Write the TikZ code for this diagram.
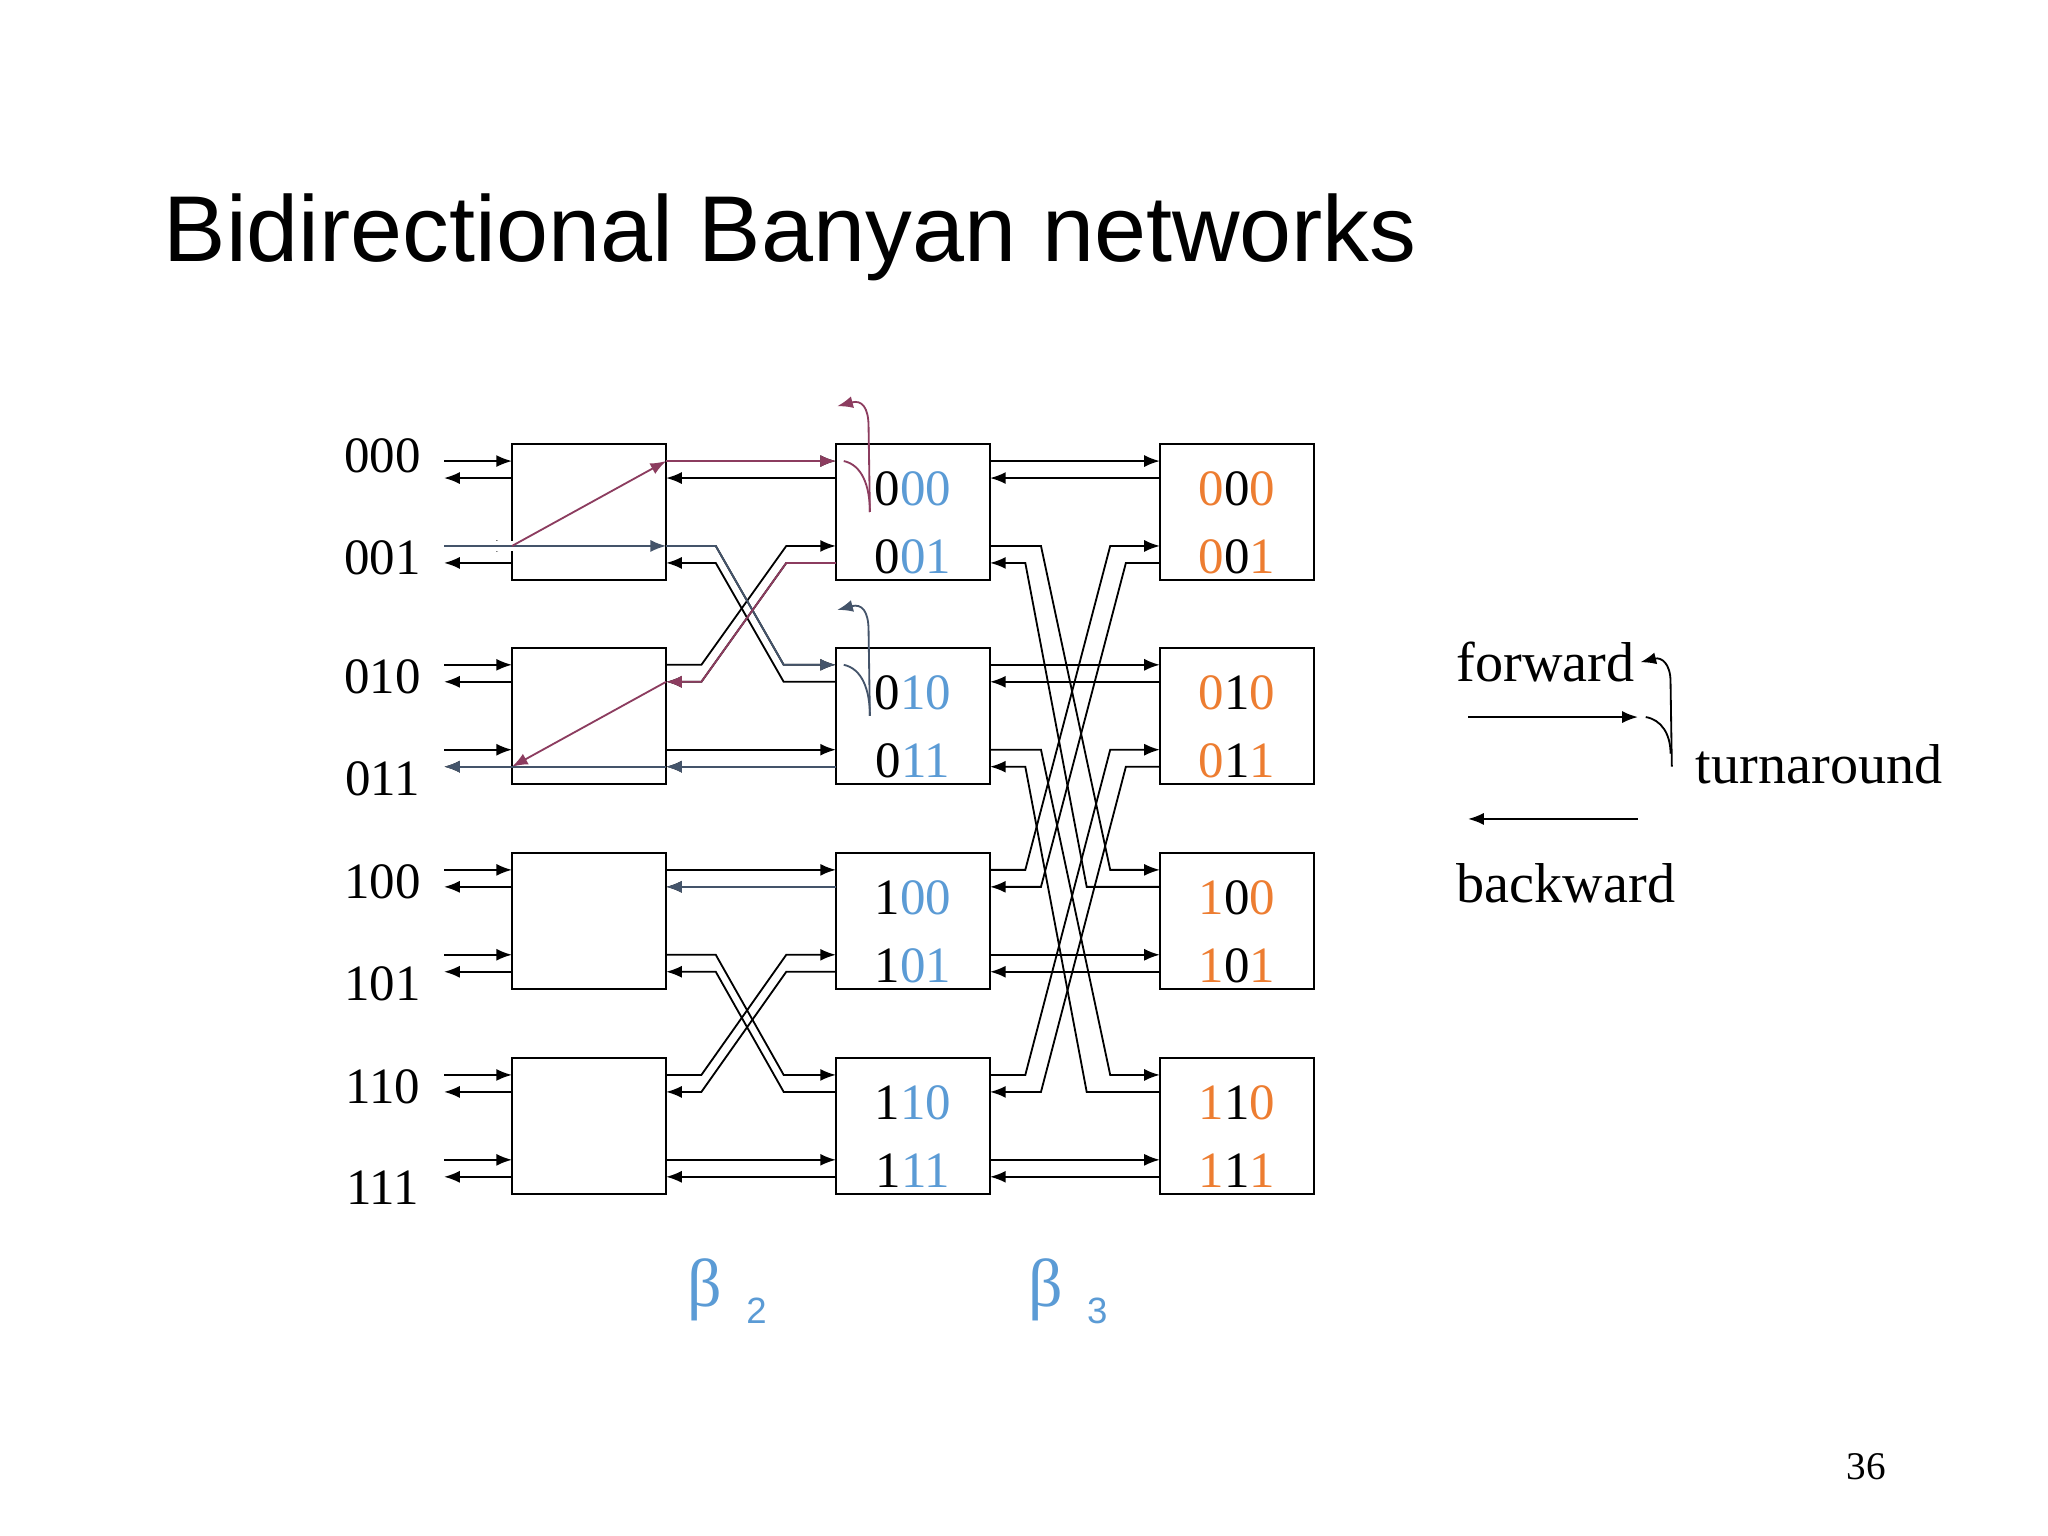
\documentclass[tikz,border=0pt]{standalone}
\usepackage{fontspec}
\setmainfont{Liberation Serif}
\newfontfamily\sansf{Liberation Sans}
\usetikzlibrary{arrows.meta,calc}
\definecolor{bl}{RGB}{91,155,213}
\definecolor{orn}{RGB}{237,125,49}
\definecolor{pk}{RGB}{140,60,95}
\definecolor{sl}{RGB}{68,84,106}
\tikzset{
  box/.style={draw,line width=0.8pt,minimum width=59pt,minimum height=52pt,inner sep=0pt,fill=white},
  fw/.style={line width=0.7pt,-{Latex[length=6pt,width=4.6pt]}},
  ln/.style={line width=0.7pt},
  lab/.style={anchor=base,inner sep=0pt,font=\fontsize{19.5}{20}\selectfont},
  leg/.style={anchor=base west,inner sep=0pt,font=\fontsize{21.5}{22}\selectfont},
}
\begin{document}
\begin{tikzpicture}[x=0.5pt,y=-0.5pt]
\path[use as bounding box,fill=white] (0,0) rectangle (1568,1176);

% title
\node[anchor=base west,inner sep=0pt,font=\sansf\fontsize{35.8}{36}\selectfont] (title) at (125,200) {Bidirectional Banyan networks};

% switch boxes and port coordinates
\foreach \c/\xl in {1/392,2/640,3/888}
  \foreach \r/\t in {1/340,2/496,3/653,4/810} {
    \node[box] (c\c-\r) at (\xl+59,\t+52) {};
    \foreach \p/\o in {0/0,1/65} {
      \coordinate (c\c-\r-Lf\p) at (\xl,\t+13+\o);
      \coordinate (c\c-\r-Lb\p) at (\xl,\t+26+\o);
      \coordinate (c\c-\r-Rf\p) at (\xl+118,\t+13+\o);
      \coordinate (c\c-\r-Rb\p) at (\xl+118,\t+26+\o);
    }
  }

% input / output ports
\foreach \r in {1,2,3,4}
  \foreach \p in {0,1} {
    \draw[fw] ($(c1-\r-Lf\p)+(-52,0)$) -- (c1-\r-Lf\p);
    \draw[fw] (c1-\r-Lb\p) -- ++(-52,0);
  }

% stage 1 links
\foreach \t/\b in {1/2,3/4} {
  \draw[fw] (c1-\t-Rf0) -- (c2-\t-Lf0);
  \draw[fw] (c2-\t-Lb0) -- (c1-\t-Rb0);
  \draw[fw] (c1-\b-Rf1) -- (c2-\b-Lf1);
  \draw[fw] (c2-\b-Lb1) -- (c1-\b-Rb1);
  \draw[fw] (c1-\t-Rf1) -- ++(38,0) -- ($(c2-\b-Lf0)+(-40,0)$) -- (c2-\b-Lf0);
  \draw[fw] (c2-\b-Lb0) -- ++(-40,0) -- ($(c1-\t-Rb1)+(38,0)$) -- (c1-\t-Rb1);
  \draw[fw] (c1-\b-Rf0) -- ++(27,0) -- ($(c2-\t-Lf1)+(-38,0)$) -- (c2-\t-Lf1);
  \draw[fw] (c2-\t-Lb1) -- ++(-38,0) -- ($(c1-\b-Rb0)+(27,0)$) -- (c1-\b-Rb0);
}

% stage 2 links
\foreach \r/\s in {1/3,2/4} {
  \draw[fw] (c2-\r-Rf0) -- (c3-\r-Lf0);
  \draw[fw] (c3-\r-Lb0) -- (c2-\r-Rb0);
  \draw[fw] (c2-\s-Rf1) -- (c3-\s-Lf1);
  \draw[fw] (c3-\s-Lb1) -- (c2-\s-Rb1);
  \draw[fw] (c2-\r-Rf1) -- ++(39,0) -- ($(c3-\s-Lf0)+(-38,0)$) -- (c3-\s-Lf0);
  \draw[fw] (c3-\s-Lb0) -- ++(-56,0) -- ($(c2-\r-Rb1)+(27,0)$) -- (c2-\r-Rb1);
  \draw[fw] (c2-\s-Rf0) -- ++(27,0) -- ($(c3-\r-Lf1)+(-38,0)$) -- (c3-\r-Lf1);
  \draw[fw] (c3-\r-Lb1) -- ++(-26,0) -- ($(c2-\s-Rb0)+(39,0)$) -- (c2-\s-Rb0);
}

% highlighted route: forward (slate), turnaround, backward (pink)
\fill[white] ($(c1-1-Lf1)+(-12,-4)$) rectangle ($(c1-1-Lf1)+(1,4)$);
\draw[sl,fw] ($(c1-1-Lf1)+(-52,0)$) -- (c1-1-Rf1);
\draw[sl,fw] (c1-1-Rf1) -- ++(38,0) -- ($(c2-2-Lf0)+(-40,0)$) -- (c2-2-Lf0);
\draw[pk,fw] (c1-1-Lf1) -- (c1-1-Rf0);
\draw[pk,fw] (c1-1-Rf0) -- (c2-1-Lf0);
\draw[pk,fw] (c2-1-Lb1) -- ++(-38,0) -- ($(c1-2-Rb0)+(27,0)$) -- (c1-2-Rb0);
\draw[pk,fw] (c1-2-Rb0) -- (c1-2-Lb1);
\draw[sl,fw] (c2-2-Lb1) -- (c1-2-Rb1);
\draw[sl,fw] (c1-2-Rb1) -- ++(-170,0);
\draw[sl,fw] (c2-3-Lb0) -- (c1-3-Rb0);

% turnaround curves inside stage-2 switches
\foreach \r/\col in {1/pk,2/sl} {
  \coordinate (ta\r) at ($(c2-\r-Lf0)+(6,0)$);
  \coordinate (tb\r) at ($(c2-\r-Lf0)+(26,39)$);
  \coordinate (tc\r) at ($(c2-\r-Lf0)+(1,-42)$);
  \draw[ln,\col] (ta\r) .. controls ($(ta\r)+(14,3)$) and ($(tb\r)+(0,-20)$) .. (tb\r);
  \draw[fw,\col] (tb\r) -- ($(tb\r)+(-1,-65)$) .. controls ($(tb\r)+(-1,-80)$) and ($(tb\r)+(-6,-86)$) .. (tc\r);
}

% port labels
\foreach \r/\a/\b/\ya/\yb in {1/00/01/362/440,2/10/11/531/609,3/00/01/688/766,4/10/11/845/922} {
  \pgfmathtruncatemacro\lead{\r>2 ? 1 : 0}
  \node[lab] (in-\r-0) at (293,\ya) {\lead\a};
  \node[lab] (in-\r-1) at (293,\yb) {\lead\b};
}
\foreach \r/\lead/\m in {1/0/0,2/0/1,3/1/0,4/1/1} {
  \node[lab] (s2-\r-0) at ($(c2-\r.north)+(0,48)$) {\lead\textcolor{bl}{\m 0}};
  \node[lab] (s2-\r-1) at ($(c2-\r.north)+(0,100)$) {\lead\textcolor{bl}{\m 1}};
  \node[lab] (s3-\r-0) at ($(c3-\r.north)+(0,48)$) {\textcolor{orn}{\lead}\m\textcolor{orn}{0}};
  \node[lab] (s3-\r-1) at ($(c3-\r.north)+(0,100)$) {\textcolor{orn}{\lead}\m\textcolor{orn}{1}};
}

% stage names
\node[anchor=base west,inner sep=0pt,text=bl,font=\fontsize{26}{26}\selectfont] (b2) at (526,1000) {β};
\node[anchor=base west,inner sep=0pt,text=bl,font=\sansf\fontsize{14}{14}\selectfont] (b2s) at (571,1013) {2};
\node[anchor=base west,inner sep=0pt,text=bl,font=\fontsize{26}{26}\selectfont] (b3) at (787,1000) {β};
\node[anchor=base west,inner sep=0pt,text=bl,font=\sansf\fontsize{14}{14}\selectfont] (b3s) at (832,1013) {3};

% legend
\node[leg] (lf) at (1115,522) {forward};
\node[leg] (lt) at (1298,600) {turnaround};
\node[leg] (lb) at (1115,691) {backward};
\coordinate (fa) at (1124,549);
\coordinate (fb) at (1254,549);
\coordinate (ba) at (1254,627);
\coordinate (bb) at (1124,627);
\draw[fw] (fa) -- (fb);
\draw[fw] (ba) -- (bb);
\coordinate (la) at (1260,549);
\coordinate (lbend) at (1279,577);
\coordinate (lc) at (1280,587);
\coordinate (ld) at (1256,507);
\draw[ln] (la) .. controls (1272,551) and (1279,562) .. (lbend);
\draw[fw] (lc) -- (1279,522) .. controls (1279,508) and (1272,503) .. (ld);

% page number
\node[anchor=base,inner sep=0pt,font=\fontsize{15}{15}\selectfont] (pg) at (1429,1133) {36};
\end{tikzpicture}
\end{document}
